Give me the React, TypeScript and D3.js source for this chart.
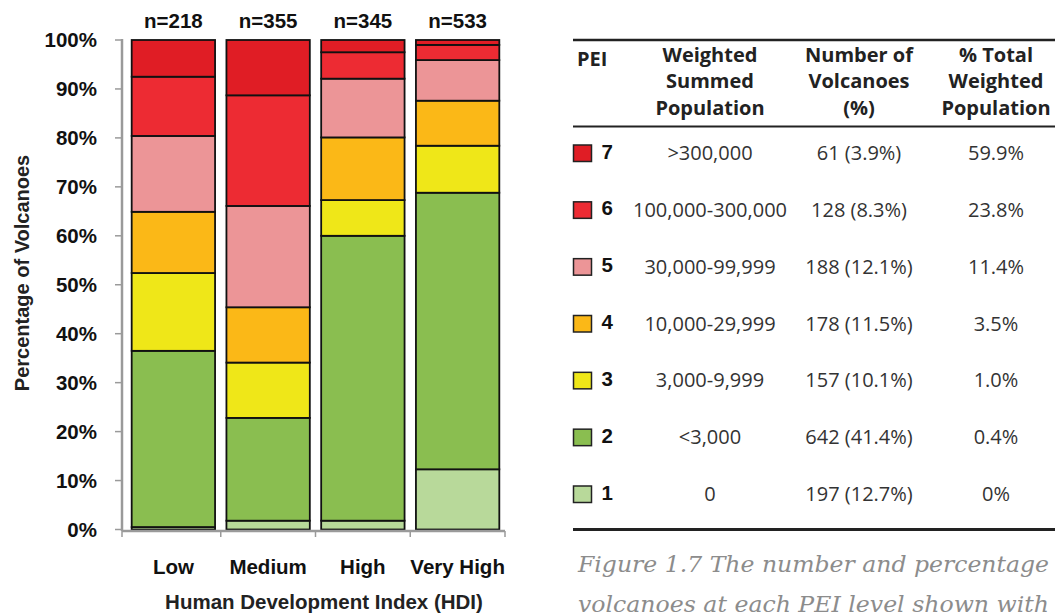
import * as d3 from "d3";

const hdiLevels = ["Low", "Medium", "High", "Very High"];
const sampleSizes = [218, 355, 345, 533];

// % of volcanoes in each HDI class, by PEI level
const pei1 = [0.5, 1.8, 1.8, 12.3];
const pei2 = [36.0, 21.0, 58.2, 56.5];
const pei3 = [15.9, 11.3, 7.3, 9.6];
const pei4 = [12.5, 11.3, 12.8, 9.2];
const pei5 = [15.5, 20.7, 12.0, 8.3];
const pei6 = [12.1, 22.6, 5.4, 3.1];
const pei7 = [7.5, 11.3, 2.5, 1.0];

const yTicks = [0, 10, 20, 30, 40, 50, 60, 70, 80, 90, 100];

// table
const peiLevels = [7, 6, 5, 4, 3, 2, 1];
const popRanges = [">300,000", "100,000-300,000", "30,000-99,999", "10,000-29,999", "3,000-9,999", "<3,000", "0"];
const volcanoCounts = ["61 (3.9%)", "128 (8.3%)", "188 (12.1%)", "178 (11.5%)", "157 (10.1%)", "642 (41.4%)", "197 (12.7%)"];
const popShare = ["59.9%", "23.8%", "11.4%", "3.5%", "1.0%", "0.4%", "0%"];

const peiColors: Record<number, string> = {
  1: "#b8d99a",
  2: "#8abe50",
  3: "#efe718",
  4: "#fbb817",
  5: "#ec9597",
  6: "#ed2b33",
  7: "#e01d25",
};

const series = [pei1, pei2, pei3, pei4, pei5, pei6, pei7];
const keys = ["1", "2", "3", "4", "5", "6", "7"];
const rows = hdiLevels.map((h, i) => {
  const r: any = { hdi: h };
  keys.forEach((k, j) => (r[k] = series[j][i]));
  return r;
});

const arial = "'Liberation Sans', Arial, sans-serif";
const myriad = "'Open Sans', sans-serif";

export default function App() {
  const x = d3.scaleBand().domain(hdiLevels).range([126, 505]).paddingInner(0.12).paddingOuter(0.06);
  const y = d3.scaleLinear().domain([0, 100]).range([529.5, 40]);
  const stacked = d3.stack().keys(keys)(rows);
  const gap = x.step() * 0.12;
  const xTicks = [122, ...hdiLevels.slice(1).map((h) => (x(h) as number) - gap / 2), 505];

  const rowY = d3.scalePoint<number>().domain(peiLevels).range([152, 493]);
  const cols = [710, 859, 996];

  return (
    <svg width={1055} height={615} style={{ position: "absolute", left: 0, top: 0, background: "#fff" }}>
      {/* y axis */}
      <line x1={122} x2={122} y1={39} y2={531} stroke="#9a9a9a" strokeWidth={2.5} />
      {yTicks.map((t) => (
        <g key={t}>
          <line x1={115} x2={122} y1={y(t)} y2={y(t)} stroke="#9a9a9a" strokeWidth={1.5} />
          <text x={97} y={y(t)} dy="0.36em" textAnchor="end" fontFamily={arial} fontWeight="bold" fontSize={20.5} fill="#111">
            {t}%
          </text>
        </g>
      ))}
      <text transform="translate(29,273) rotate(-90)" textAnchor="middle" fontFamily={arial} fontWeight="bold" fontSize={20} fill="#222">
        Percentage of Volcanoes
      </text>

      {/* stacked bars */}
      {stacked.map((layer) => (
        <g key={layer.key} fill={peiColors[+layer.key]}>
          {layer.map((d, i) => (
            <rect
              key={i}
              x={x(hdiLevels[i])}
              width={x.bandwidth()}
              y={y(d[1])}
              height={Math.max(0, y(d[0]) - y(d[1]))}
              stroke="#111"
              strokeWidth={1.8}
            />
          ))}
        </g>
      ))}

      {/* x axis */}
      <line x1={122} x2={505} y1={531} y2={531} stroke="#9a9a9a" strokeWidth={2.5} />
      {xTicks.map((t, i) => (
        <line key={i} x1={t} x2={t} y1={531} y2={537} stroke="#9a9a9a" strokeWidth={1.5} />
      ))}
      {hdiLevels.map((h, i) => (
        <g key={h}>
          <text x={(x(h) as number) + x.bandwidth() / 2} y={574} textAnchor="middle" fontFamily={arial} fontWeight="bold" fontSize={20.5} fill="#111">
            {h}
          </text>
          <text x={(x(h) as number) + x.bandwidth() / 2} y={28} textAnchor="middle" fontFamily={arial} fontWeight="bold" fontSize={20.5} fill="#111">
            n={sampleSizes[i]}
          </text>
        </g>
      ))}
      <text x={324} y={609} textAnchor="middle" fontFamily={arial} fontWeight="bold" fontSize={20.5} fill="#222">
        Human Development Index (HDI)
      </text>

      {/* table */}
      <line x1={573} x2={1055} y1={40} y2={40} stroke="#222" strokeWidth={2.5} />
      <line x1={573} x2={1055} y1={126.5} y2={126.5} stroke="#222" strokeWidth={2} />
      <line x1={573} x2={1055} y1={529.5} y2={529.5} stroke="#222" strokeWidth={3} />
      <text x={577} y={66} fontFamily={myriad} fontWeight="bold" fontSize={20} fill="#222">PEI</text>
      {[
        ["Weighted", "Summed", "Population"],
        ["Number of", "Volcanoes", "(%)"],
        ["% Total", "Weighted", "Population"],
      ].map((lines, c) =>
        lines.map((l, k) => (
          <text key={c + "-" + k} x={cols[c]} y={61.5 + k * 26.7} textAnchor="middle" fontFamily={myriad} fontWeight="bold" fontSize={20} fill="#222">
            {l}
          </text>
        ))
      )}
      {peiLevels.map((p, i) => {
        const cy = rowY(p) as number;
        return (
          <g key={p}>
            <rect x={573.5} y={cy - 7} width={18} height={16.5} fill={peiColors[p]} stroke="#222" strokeWidth={1.5} />
            <text x={601.5} y={cy + 6.5} fontFamily={arial} fontWeight="bold" fontSize={20.5} fill="#111">{p}</text>
            {[popRanges[i], volcanoCounts[i], popShare[i]].map((v, c) => (
              <text key={c} x={cols[c]} y={cy + 8} textAnchor="middle" fontFamily={myriad} fontSize={20} fill="#333">
                {v}
              </text>
            ))}
          </g>
        );
      })}

      {/* caption */}
      <text x={578} y={572} fontFamily="'DejaVu Serif', serif" fontStyle="italic" fontSize={23} fill="#8c8c8c" textLength={471} lengthAdjust="spacingAndGlyphs">
        Figure 1.7 The number and percentage
      </text>
      <text x={578} y={612} fontFamily="'DejaVu Serif', serif" fontStyle="italic" fontSize={23} fill="#8c8c8c" textLength={471} lengthAdjust="spacingAndGlyphs">
        volcanoes at each PEI level shown with
      </text>
    </svg>
  );
}
